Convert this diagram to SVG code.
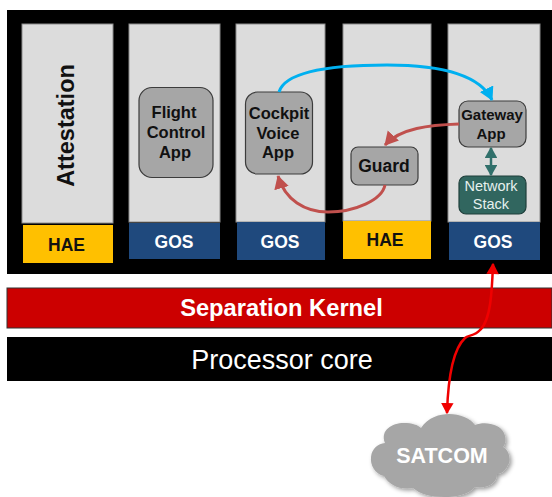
<svg xmlns="http://www.w3.org/2000/svg" width="552" height="497" viewBox="0 0 552 497">
<style>
text{font-family:"Liberation Sans",Arial,sans-serif;text-anchor:middle;font-weight:bold}
.col{fill:#dcdcdc;stroke:#8c8c8c;stroke-width:1}
.hae{fill:#ffc000}
.gos{fill:#1f497d}
.w{fill:#fff}
.k{fill:#111}
.app{fill:#a6a6a6;stroke:#3c3c3c;stroke-width:1.2}
.lab{font-size:16.5px}
.tag{font-size:17.5px}
.reg{font-weight:normal}
</style>
<defs>
<marker id="blue" markerWidth="6" markerHeight="6" refX="4.2" refY="2.5" orient="auto"><path d="M0,0L4.5,2.5L0,5Z" fill="#00b0f0"/></marker>
<marker id="rust" markerWidth="6" markerHeight="6" refX="4.2" refY="2.5" orient="auto"><path d="M0,0L4.5,2.5L0,5Z" fill="#c0504d"/></marker>
<marker id="teal" markerWidth="5" markerHeight="5" refX="4" refY="2.5" orient="auto"><path d="M0,0L4.5,2.5L0,5Z" fill="#31706b"/></marker>
<marker id="tealS" markerWidth="5" markerHeight="5" refX="0.5" refY="2.5" orient="auto"><path d="M4.5,0L0,2.5L4.5,5Z" fill="#31706b"/></marker>
<marker id="red" markerWidth="5" markerHeight="5" refX="4" refY="2.5" orient="auto"><path d="M0,0L4.5,2.5L0,5Z" fill="#f00000"/></marker>
<marker id="redS" markerWidth="5" markerHeight="5" refX="0.5" refY="2.5" orient="auto"><path d="M4.5,0L0,2.5L4.5,5Z" fill="#f00000"/></marker>
<filter id="sh" x="-20%" y="-20%" width="150%" height="150%"><feDropShadow dx="2" dy="2" stdDeviation="2" flood-color="#000" flood-opacity=".4"/></filter>
</defs>
<rect x="0" y="0" width="552" height="497" fill="#fff"/>
<g id="platform"><rect x="7" y="10" width="545" height="264" fill="#000"/></g>
<g id="attestation">
<rect class="col" x="22" y="24" width="91" height="199"/>
<text transform="translate(74,125.500) rotate(-90)" font-size="23.500" class="k">Attestation</text>
</g>
<g id="hae-1"><rect class="hae" x="23" y="225" width="90" height="38"/><text class="tag k" x="66.500" y="250.500">HAE</text></g>
<g id="partition-2"><rect class="col" x="129" y="24" width="91" height="198"/></g>
<g id="flight-control"><rect class="app" x="139" y="87.500" width="74" height="90" rx="13"/>
<text class="lab k" x="174" y="118">Flight</text><text class="lab k" x="176" y="138">Control</text><text class="lab k" x="175" y="158">App</text></g>
<g id="gos-2"><rect class="gos" x="129" y="223" width="91" height="36"/><text class="tag w" x="174" y="248">GOS</text></g>
<g id="partition-3"><rect class="col" x="236" y="24" width="89" height="198"/></g>
<g id="cockpit-voice"><rect class="app" x="245.500" y="92" width="67" height="82" rx="12"/>
<text class="lab k" x="279" y="119">Cockpit</text><text class="lab k" x="278" y="139">Voice</text><text class="lab k" x="278" y="158">App</text></g>
<g id="gos-3"><rect class="gos" x="237" y="222" width="88" height="38"/><text class="tag w" x="280" y="248">GOS</text></g>
<g id="partition-4"><rect class="col" x="343" y="24" width="88" height="197"/></g>
<g id="guard"><rect class="app" x="351" y="147" width="67" height="38" rx="7"/><text class="k" font-size="17.500" x="384" y="172">Guard</text></g>
<g id="hae-4"><rect class="hae" x="343" y="221" width="88" height="38"/><text class="tag k" x="385" y="246">HAE</text></g>
<g id="partition-5"><rect class="col" x="448" y="24" width="92" height="198"/></g>
<g id="gateway"><rect class="app" x="459" y="101" width="67" height="46" rx="9"/>
<text class="k" font-size="15" x="492" y="120">Gateway</text><text class="k" font-size="15" x="491" y="139">App</text></g>
<g id="network-stack"><rect x="459" y="176" width="67" height="38" rx="7" fill="#31665f" stroke="#1f3f3b" stroke-width="1.200"/>
<text font-size="14.500" class="reg" fill="#e6f0ee" x="491" y="191">Network</text><text font-size="14.500" class="reg" fill="#e6f0ee" x="491" y="209">Stack</text></g>
<g id="gos-5"><rect class="gos" x="449" y="222" width="91" height="38"/><text class="tag w" x="493" y="248">GOS</text></g>
<g id="separation-kernel"><rect x="7" y="288" width="545" height="40" fill="#cc0000" stroke="#333" stroke-width="1"/><text font-size="23.700" class="w" x="281.500" y="316">Separation Kernel</text></g>
<g id="processor-core"><rect x="7" y="337" width="545" height="44" fill="#000"/><text font-size="27" class="w reg" x="282" y="369">Processor core</text></g>
<g id="satcom">
<path d="M385,443C380,430 392,423 404,423C412,423 418,425 421,428C428,417 440,414 449,414C460,414 470,418 475,425C485,421 500,424 504,433C507,440 505,445 503,447C510,450 511,462 508,465C505,472 500,474 497,474C497,484 486,489 475,487C468,495 455,497 445,497C430,497 420,494 413,488C400,490 390,486 384,476C375,474 370,465 371,457C372,448 378,444 385,443Z" fill="#a6a6a6" filter="url(#sh)"/>
<text font-size="21.500" class="w" x="442" y="463">SATCOM</text></g>
<g id="connectors" fill="none">
<path d="M279,92C285,72 330,65 387,65C440,65 480,75 492,100" stroke="#00b0f0" stroke-width="3" marker-end="url(#blue)"/>
<path d="M459,124C430,125 400,128 385,145" stroke="#c0504d" stroke-width="3" marker-end="url(#rust)"/>
<path d="M385,185C382,200 355,212 328,212C305,212 285,200 278,176" stroke="#c0504d" stroke-width="3" marker-end="url(#rust)"/>
<path d="M491,148L491,175" stroke="#31706b" stroke-width="2.500" marker-start="url(#tealS)" marker-end="url(#teal)"/>
<path d="M493,264C492,290 491,320 480,330C475,336 468,335 465,338C452,350 448,380 447,413" stroke="#f00000" stroke-width="2.500" marker-start="url(#redS)" marker-end="url(#red)"/>
</g>
</svg>
